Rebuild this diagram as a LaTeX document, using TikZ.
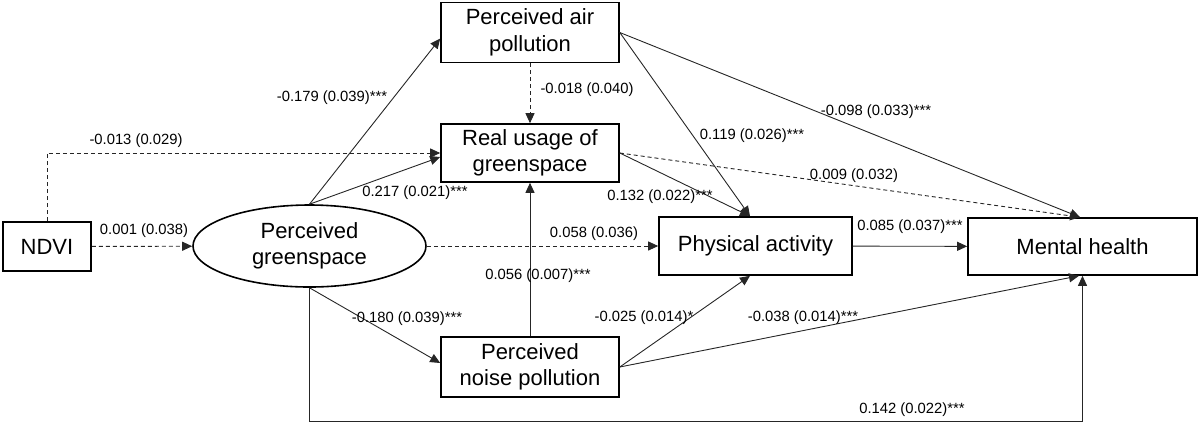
\documentclass[tikz,border=0pt]{standalone}
\usepackage{fontspec}
\setmainfont{Liberation Sans}
\usetikzlibrary{arrows.meta,shapes.geometric}

\begin{document}
\begin{tikzpicture}[x=0.5pt,y=-0.5pt,
    var/.style={draw,line width=0.8pt,align=center,inner sep=0pt,font=\fontsize{11}{13.3}\selectfont},
    link/.style={-{Triangle[length=5pt,width=4.5pt]},line width=0.45pt,black!85},
    dlink/.style={link,dash pattern=on 2pt off 1.5pt},
    coef/.style={font=\fontsize{7.4}{8}\selectfont,inner sep=0pt}]
  \useasboundingbox (0,0) rectangle (1200,425);

  % variables
  \node[var,minimum width=44pt,minimum height=24.5pt] (ndvi) at (47,246.5) {NDVI};
  \node[var,ellipse,minimum width=116.5pt,minimum height=41pt] (green) at (309.5,246) {Perceived\\greenspace};
  \node[var,minimum width=89pt,minimum height=30pt] (air) at (530,32.5) {Perceived air\\pollution};
  \node[var,minimum width=89pt,minimum height=29pt] (usage) at (530,153) {Real usage of\\greenspace};
  \node[var,minimum width=89pt,minimum height=30pt] (noise) at (530,367) {Perceived\\noise pollution};
  \node[var,minimum width=96.5pt,minimum height=29pt] (pa) at (755.5,246) {Physical activity};
  \node[var,minimum width=114.5pt,minimum height=28.5pt] (mh) at (1082.5,246.5) {Mental health};
  \coordinate (bot) at (0,421);

  % paths
  \draw[dlink] (ndvi) -- (green);
  \draw[dlink] (ndvi.north) |- (usage.west);
  \draw[link] (green.north) -- ([yshift=-3pt]air.west);
  \draw[link] (green.north) -- ([yshift=-2pt]usage.west);
  \draw[dlink] (green.east) -- (pa.west);
  \draw[link] (green.south) -- ([yshift=2pt]noise.west);
  \draw[link] (green.south) -- (green.south |- bot) -| (mh.south);
  \draw[dlink] (air) -- (usage);
  \draw[link] (air.east) -- ([xshift=-2.75pt]pa.north);
  \draw[link] (air.east) -- ([xshift=-1.25pt]mh.north);
  \draw[link] (usage.east) -- ([xshift=-2.75pt]pa.north);
  \draw[dlink] (usage.east) -- ([xshift=-1.25pt]mh.north);
  \draw[link] (noise) -- (usage);
  \draw[link] (noise.east) -- ([xshift=-2.75pt]pa.south);
  \draw[link] (noise.east) -- ([xshift=-1.75pt]mh.south);
  \draw[link] (pa) -- (mh);

  % coefficients
  \node[coef] (cNG) at (144,231) {0.001 (0.038)};
  \node[coef] (cNU) at (136,141) {-0.013 (0.029)};
  \node[coef] (cGA) at (332,98) {-0.179 (0.039)***};
  \node[coef] (cGU) at (415,193) {0.217 (0.021)***};
  \node[coef] (cGP) at (594,234) {0.058 (0.036)};
  \node[coef] (cGN) at (407,319) {-0.180 (0.039)***};
  \node[coef] (cGM) at (912,410) {0.142 (0.022)***};
  \node[coef] (cAU) at (587,90) {-0.018 (0.040)};
  \node[coef] (cAP) at (752,136) {0.119 (0.026)***};
  \node[coef] (cAM) at (876,112) {-0.098 (0.033)***};
  \node[coef] (cUP) at (660,197) {0.132 (0.022)***};
  \node[coef] (cUM) at (854,176) {0.009 (0.032)};
  \node[coef] (cNoU) at (538,276) {0.056 (0.007)***};
  \node[coef] (cNoP) at (644,318) {-0.025 (0.014)*};
  \node[coef] (cNoM) at (803,318) {-0.038 (0.014)***};
  \node[coef] (cPM) at (910,227) {0.085 (0.037)***};
\end{tikzpicture}
\end{document}
